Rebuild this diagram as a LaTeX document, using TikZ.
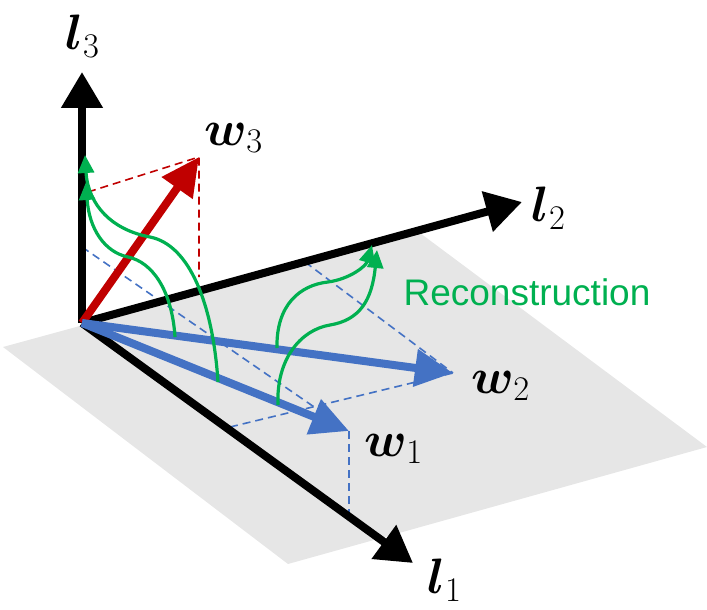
\documentclass[tikz,border=0pt]{standalone}
\usepackage{amsmath}
\usepackage{bm}
\usepackage{fontspec}
\usetikzlibrary{arrows.meta,positioning}
\newfontfamily\recfont{Liberation Sans}
\definecolor{planegray}{HTML}{E6E6E6}
\definecolor{vecblue}{HTML}{4472C4}
\definecolor{vecred}{HTML}{C00000}
\definecolor{recgreen}{HTML}{00B050}
\tikzset{
	axis/.style={line width=4pt, -{Triangle[length=18pt,width=20pt]}},
	vecarrow/.style={line width=4pt, -{Triangle[length=19pt,width=18pt]}},
	proj/.style={line width=0.8pt, dash pattern=on 4pt off 2.5pt},
	recon/.style={recgreen, line width=1.6pt, -{Triangle[length=9pt,width=8pt]}},
	axlabel/.style={font=\fontsize{25}{30}\selectfont, inner sep=0pt},
}

\begin{document}
\begin{tikzpicture}[
            x=0.5pt,
            y=-0.5pt
        ]
        \useasboundingbox (0,0) rectangle (707,610);
        \coordinate (O) at (82,323);
        \coordinate (L1) at (413,563);
        \coordinate (L2) at (522,202);
        \coordinate (L3) at (82,72);
        \coordinate (W1) at (349,431);
        \coordinate (W2) at (453,373);
        \coordinate (W3) at (199,157);
        \coordinate (P1) at (3,347);
        \coordinate (P2) at (420,233);
        \coordinate (P3) at (707,447);
        \coordinate (P4) at (288,564);
        \coordinate (f3a) at (88,192);
        \coordinate (f3b) at (199,277);
        \coordinate (f1a) at (82,247);
        \coordinate (f1b) at (349,516);
        \coordinate (f2a) at (230,427);
        \coordinate (f2b) at (305,262);
        \coordinate (s1) at (175,337);
        \coordinate (s2) at (218,382);
        \coordinate (s3) at (277,348);
        \coordinate (s4) at (278,405);
        \coordinate (t1) at (86,182);
        \coordinate (t2) at (85,155);
        \coordinate (t3) at (372,245);
        \coordinate (t4) at (377,250);

        \fill[planegray] (P1) -- (P2) -- (P3) -- (P4) -- cycle;

        \draw[proj, vecblue] (f1a) -- (W1);
        \draw[proj, vecblue] (f2a) -- (W2);
        \draw[proj, vecblue] (f2b) -- (W2);
        \draw[proj, vecblue] (W1) -- (f1b);
        \draw[proj, vecred] (f3a) -- (W3) -- (f3b);

        \draw[axis] (O) -- (L3);
        \draw[axis] (O) -- (L2);
        \draw[axis] (O) -- (L1);

        \draw[vecarrow, vecred] (O) -- (W3);
        \draw[vecarrow, vecblue] (O) -- (W2);
        \draw[vecarrow, vecblue] (O) -- (W1);

        \draw[recon] (s1) .. controls (172,290) and (152,262) .. (128,257)
            .. controls (104,252) and (89,228) .. (t1);
        \draw[recon] (s2) .. controls (213,305) and (190,245) .. (150,237)
            .. controls (112,230) and (88,205) .. (t2);
        \draw[recon] (s3) .. controls (276,305) and (300,285) .. (328,282)
            .. controls (350,279) and (366,266) .. (t3);
        \draw[recon] (s4) .. controls (276,360) and (300,330) .. (330,325)
            .. controls (360,320) and (372,300) .. (t4);

        \node[axlabel] (l3lab) at (83,36) {$\bm{l}_3$};
        \node[axlabel] (l2lab) at (549,208) {$\bm{l}_2$};
        \node[axlabel] (l1lab) at (445,580) {$\bm{l}_1$};
        \node[axlabel] (w3lab) at (234,138) {$\bm{w}_3$};
        \node[axlabel] (w2lab) at (501,386) {$\bm{w}_2$};
        \node[axlabel] (w1lab) at (394,449) {$\bm{w}_1$};
        \node[recgreen, font=\recfont\fontsize{18.5}{22}\selectfont] (rec) at (527,292) {Reconstruction};
    \end{tikzpicture}
\end{document}
